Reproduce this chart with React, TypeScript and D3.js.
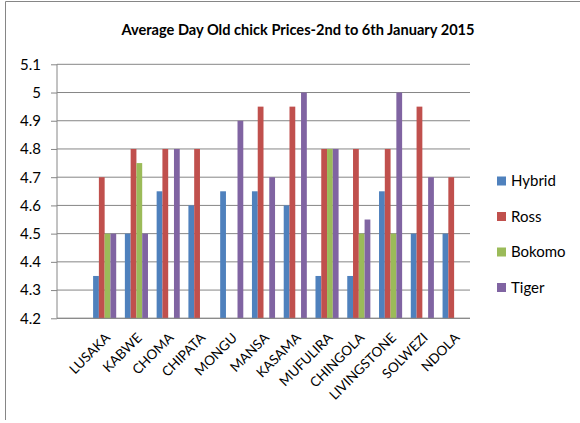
import React, { useEffect, useRef } from 'react';
import * as d3 from 'd3';

// blank first slot: the source sheet leaves an empty category before LUSAKA
const towns = ['', 'LUSAKA', 'KABWE', 'CHOMA', 'CHIPATA', 'MONGU', 'MANSA', 'KASAMA', 'MUFULIRA', 'CHINGOLA', 'LIVINGSTONE', 'SOLWEZI', 'NDOLA'];
const breeds = ['Hybrid', 'Ross', 'Bokomo', 'Tiger'];

const hybrid = [null, 4.35, 4.5, 4.65, 4.6, 4.65, 4.65, 4.6, 4.35, 4.35, 4.65, 4.5, 4.5];
const ross = [null, 4.7, 4.8, 4.8, 4.8, null, 4.95, 4.95, 4.8, 4.8, 4.8, 4.95, 4.7];
const bokomo = [null, 4.5, 4.75, null, null, null, null, null, 4.8, 4.5, 4.5, null, null];
const tiger = [null, 4.5, 4.5, 4.8, null, 4.9, 4.7, 5.0, 4.8, 4.55, 5.0, 4.7, null];

const yTicks = [4.2, 4.3, 4.4, 4.5, 4.6, 4.7, 4.8, 4.9, 5.0, 5.1];
const colors = ['#4F81BD', '#C0504D', '#9BBB59', '#8064A2'];

const title = 'Average Day Old chick Prices-2nd to 6th January 2015';
const font = 'Lato, "Open Sans", sans-serif';

export default function App() {
  const ref = useRef<SVGSVGElement>(null);

  useEffect(() => {
    const svg = d3.select(ref.current);
    svg.selectAll('*').remove();

    const width = 580;
    const plot = { left: 57, right: 470, top: 64.3, bottom: 318.3 };

    // chart frame (only top and left edges show in the crop)
    svg.append('path')
      .attr('d', `M5.5,420 V1.5 H${width}`)
      .attr('fill', 'none')
      .attr('stroke', '#868686')
      .attr('stroke-width', 1);

    svg.append('text')
      .attr('x', 298)
      .attr('y', 35)
      .attr('text-anchor', 'middle')
      .style('font-family', font)
      .style('font-weight', 'bold')
      .style('font-size', '14.6px')
      .text(title);

    const x = d3.scaleBand<string>()
      .domain(towns)
      .range([plot.left, plot.right]);

    const x1 = d3.scaleBand<string>()
      .domain(breeds)
      .range([0, x.bandwidth()])
      .paddingInner(0)
      .paddingOuter(0.75);

    const y = d3.scaleLinear()
      .domain([4.2, 5.1])
      .range([plot.bottom, plot.top]);

    // gridlines
    svg.append('g')
      .selectAll('line')
      .data(yTicks)
      .enter()
      .append('line')
      .attr('x1', plot.left)
      .attr('x2', plot.right)
      .attr('y1', d => y(d))
      .attr('y2', d => y(d))
      .attr('stroke', '#868686')
      .attr('stroke-width', 1);

    const series = [hybrid, ross, bokomo, tiger];
    const bars = series.flatMap((vals, si) =>
      vals.map((v, ti) => ({ town: towns[ti], breed: breeds[si], value: v, color: colors[si] }))
    ).filter(d => d.value != null);

    svg.append('g')
      .selectAll('rect')
      .data(bars)
      .enter()
      .append('rect')
      .attr('x', d => (x(d.town) as number) + (x1(d.breed) as number))
      .attr('y', d => y(d.value as number))
      .attr('width', x1.bandwidth())
      .attr('height', d => plot.bottom - y(d.value as number))
      .attr('fill', d => d.color);

    // y axis
    const yAxis = svg.append('g')
      .attr('transform', `translate(${plot.left},0)`)
      .call(d3.axisLeft(y).tickValues(yTicks).tickSize(6).tickPadding(10).tickFormat(d => String(+(+d).toFixed(1))));
    yAxis.select('.domain').attr('stroke', '#868686').attr('d', `M0,${plot.top}V${plot.bottom}`);
    yAxis.selectAll('.tick line').attr('stroke', '#868686');
    yAxis.selectAll('.tick text')
      .style('font-family', font)
      .style('font-size', '15px')
      .attr('fill', '#000');

    // x axis line
    svg.append('line')
      .attr('x1', plot.left)
      .attr('x2', plot.right)
      .attr('y1', plot.bottom)
      .attr('y2', plot.bottom)
      .attr('stroke', '#868686');

    svg.append('g')
      .selectAll('text')
      .data(towns.filter(t => t !== ''))
      .enter()
      .append('text')
      .attr('transform', d => `translate(${(x(d) as number) + x.bandwidth() / 2 + 3},${plot.bottom + 17}) rotate(-45)`)
      .attr('text-anchor', 'end')
      .attr('dy', '0.35em')
      .style('font-family', font)
      .style('font-size', '13.5px')
      .text(d => d);

    // legend
    const legend = svg.append('g')
      .selectAll('g')
      .data(breeds)
      .enter()
      .append('g')
      .attr('transform', (d, i) => `translate(497,${181 + i * 35.5})`);

    legend.append('rect')
      .attr('x', 0)
      .attr('y', -4.5)
      .attr('width', 9)
      .attr('height', 9)
      .attr('fill', (d, i) => colors[i]);

    legend.append('text')
      .attr('x', 14)
      .attr('dy', '0.35em')
      .style('font-family', font)
      .style('font-size', '15px')
      .text(d => d);
  }, []);

  return (
    <svg
      ref={ref}
      width={580}
      height={423}
      style={{ position: 'absolute', left: 0, top: 0, background: '#fff' }}
    />
  );
}
